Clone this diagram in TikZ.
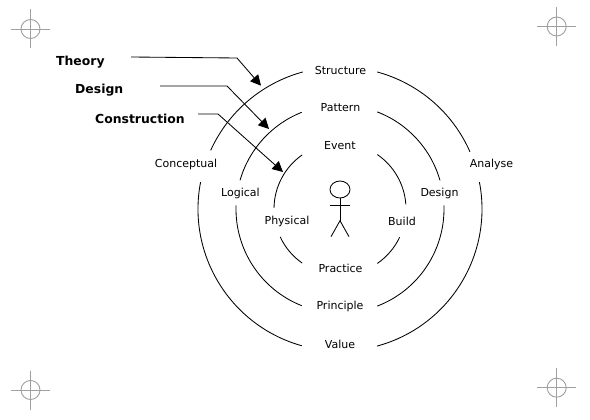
\documentclass[tikz,border=0pt]{standalone}
\usepackage{fontspec}
\setmainfont{DejaVu Sans}
\usetikzlibrary{arrows.meta,shapes.geometric}
\definecolor{markgray}{RGB}{160,160,160}
\tikzset{
  x=1pt,y=-1pt,
  ringline/.style={draw=black,line width=0.85pt},
  lbl/.style={inner sep=0pt,font=\fontsize{11}{13}\selectfont,text=black},
  headlbl/.style={inner sep=0pt,anchor=west,font=\bfseries\fontsize{12.4}{14}\selectfont,text=black},
  pointer/.style={draw=black,line width=0.85pt,-{Triangle[length=10.5pt,width=10.5pt]}},
  person/.style={draw=black,line width=0.85pt},
  markline/.style={draw=markgray,line width=0.9pt},
  regmark/.pic={
    \draw[markline] (0,0) circle[radius=9.5];
    \draw[markline] (-19.5,0) -- (19.5,0);
    \draw[markline] (0,-19.5) -- (0,19.5);
  }
}
\newcommand{\ringarc}[3]{\draw[ringline] (340,209) ++(#2:#1) arc[start angle=#2,end angle=#3,radius=#1];}
\begin{document}
\begin{tikzpicture}
\useasboundingbox (0,0) rectangle (590,420);
\fill[white] (0,0) rectangle (590,420);
\pic at (30.5,29) {regmark};
\pic at (556.7,26.5) {regmark};
\pic at (30.5,390) {regmark};
\pic at (556.7,387.7) {regmark};
% outer ring
\ringarc{142}{-74.8}{-23.8}
\ringarc{142}{-105.2}{-155.6}
\ringarc{142}{190.9}{105.6}
\ringarc{142}{-10.9}{74.9}
% middle ring
\ringarc{104}{-69}{-16}
\ringarc{104}{-111.6}{-164}
\ringarc{104}{182}{111.6}
\ringarc{104}{-2}{69}
% inner ring
\ringarc{66}{-55.6}{-4}
\ringarc{66}{-125}{-179}
\ringarc{66}{155}{125}
\ringarc{66}{25.4}{55.6}
% labels
\node[lbl] (structure) at (340.5,70.5) {Structure};
\node[lbl] (pattern) at (340.5,107.5) {Pattern};
\node[lbl] (event) at (340,145.5) {Event};
\node[lbl] (conceptual) at (186,164.5) {Conceptual};
\node[lbl] (logical) at (240.5,193.5) {Logical};
\node[lbl] (physical) at (287,221.5) {Physical};
\node[lbl] (build) at (402,221.5) {Build};
\node[lbl] (designr) at (439.5,193.5) {Design};
\node[lbl] (analyse) at (491.5,164.5) {Analyse};
\node[lbl] (practice) at (340.5,268.5) {Practice};
\node[lbl] (principle) at (340,306.5) {Principle};
\node[lbl] (value) at (340,344.5) {Value};
\node[headlbl] (theory) at (56,62) {Theory};
\node[headlbl] (design) at (75,90) {Design};
\node[headlbl] (construction) at (95,118.5) {Construction};
% person
\node[draw=black,line width=0.85pt,ellipse,minimum width=20pt,minimum height=17pt,inner sep=0pt] (head) at (340,189.5) {};
\coordinate (hip) at (340,220.7);
\coordinate (armL) at (330,205);
\coordinate (armR) at (349.5,205);
\coordinate (footL) at (331,236.7);
\coordinate (footR) at (349,236.7);
\draw[person] (head.south) -- (hip);
\draw[person] (armL) -- (armR);
\draw[person] (footL) -- (hip) -- (footR);
% pointers
\coordinate (t0) at (131,57);
\coordinate (t1) at (237,58);
\coordinate (t2) at (261,85.7);
\coordinate (d0) at (160,86);
\coordinate (d1) at (227,86);
\coordinate (d2) at (269,129);
\coordinate (c0) at (198,114);
\coordinate (c1) at (218,114);
\coordinate (c2) at (283,172);
\draw[pointer] (t0) -- (t1) -- (t2);
\draw[pointer] (d0) -- (d1) -- (d2);
\draw[pointer] (c0) -- (c1) -- (c2);
\end{tikzpicture}
\end{document}
